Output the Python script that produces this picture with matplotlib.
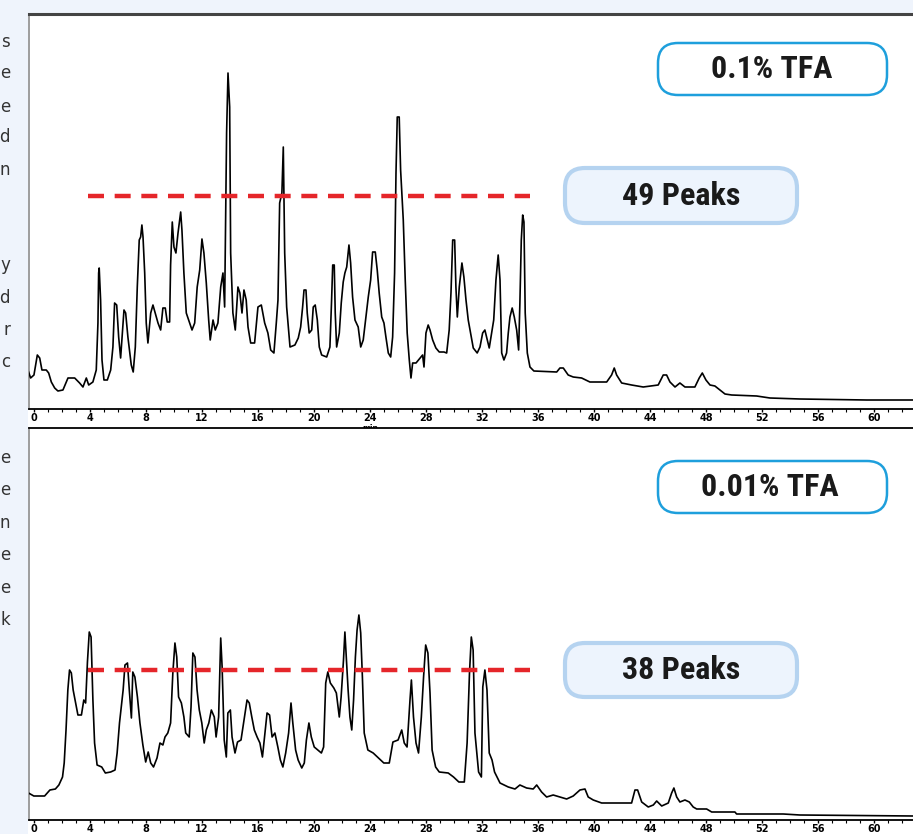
import numpy as np
import matplotlib
matplotlib.use("Agg")
import matplotlib.pyplot as plt
from matplotlib.patches import FancyBboxPatch, Rectangle
from matplotlib.ticker import MultipleLocator

# retention time (min) and detector signal
t_01 = [-0.43, -0.24, 0.00, 0.24, 0.41, 0.57, 0.88, 1.05, 1.24, 1.48, 1.71, 2.07, 2.43, 2.91, 3.26, 3.50,
        3.74, 3.91, 4.21, 4.45, 4.57, 4.62, 4.66, 4.76, 4.86, 5.00, 5.24, 5.48, 5.64, 5.76, 5.91, 6.05,
        6.19, 6.34, 6.43, 6.55, 6.71, 6.95, 7.09, 7.24, 7.38, 7.52, 7.62, 7.71, 7.79, 7.91, 8.02, 8.14,
        8.34, 8.50, 8.66, 8.86, 9.05, 9.21, 9.38, 9.52, 9.69, 9.76, 9.88, 10.00, 10.14, 10.29, 10.48, 10.57,
        10.71, 10.88, 11.12, 11.29, 11.48, 11.66, 11.84, 12.00, 12.14, 12.31, 12.48, 12.59, 12.79, 12.95,
        13.14, 13.34, 13.50, 13.62, 13.76, 13.86, 13.98, 14.05, 14.21, 14.38, 14.57, 14.71, 14.86, 15.00,
        15.16, 15.29, 15.48, 15.76, 16.00, 16.24, 16.48, 16.71, 16.91, 17.14, 17.31, 17.43, 17.55, 17.71,
        17.81, 17.91, 18.05, 18.29, 18.64, 18.88, 19.05, 19.19, 19.29, 19.43, 19.52, 19.66, 19.84, 19.95,
        20.09, 20.24, 20.38, 20.55, 20.91, 21.14, 21.26, 21.34, 21.45, 21.52, 21.62, 21.81, 21.95, 22.09,
        22.21, 22.34, 22.50, 22.62, 22.76, 22.93, 23.16, 23.34, 23.52, 23.71, 23.88, 24.05, 24.19, 24.38,
        24.52, 24.66, 24.84, 25.00, 25.14, 25.31, 25.48, 25.62, 25.76, 25.86, 25.95, 26.09, 26.19, 26.38,
        26.52, 26.66, 26.81, 26.93, 27.05, 27.29, 27.76, 27.86, 28.00, 28.16, 28.29, 28.48, 28.71, 28.95,
        29.29, 29.48, 29.66, 29.79, 29.91, 30.05, 30.14, 30.24, 30.38, 30.57, 30.71, 30.86, 31.02, 31.19,
        31.38, 31.66, 31.86, 32.05, 32.21, 32.38, 32.52, 32.69, 32.84, 33.00, 33.16, 33.29, 33.41, 33.57,
        33.76, 33.88, 34.00, 34.16, 34.31, 34.48, 34.62, 34.71, 34.81, 34.91, 35.00, 35.09, 35.24, 35.43,
        35.71, 37.34, 37.57, 37.81, 38.16, 38.52, 39.12, 39.71, 40.91, 41.26, 41.45, 41.62, 41.98, 42.69,
        43.52, 44.59, 44.95, 45.19, 45.43, 45.79, 46.14, 46.50, 47.21, 47.52, 47.74, 48.00, 48.29, 48.64,
        49.00, 49.36, 49.84, 51.62, 52.57, 54.71, 59.48, 62.79]
sig_01 = [39, 31, 34, 54, 51, 39, 39, 36, 27, 21, 18, 19, 31, 31, 26, 22,
          31, 24, 27, 39, 86, 136, 141, 109, 49, 29, 29, 39, 62, 106, 104, 72,
          51, 82, 99, 96, 72, 44, 37, 62, 122, 169, 172, 184, 172, 136, 86, 66,
          96, 104, 96, 86, 79, 101, 101, 87, 87, 144, 187, 162, 156, 176, 197, 179,
          136, 96, 86, 79, 86, 122, 139, 170, 156, 126, 89, 69, 89, 79,
          86, 122, 136, 102, 276, 336, 302, 156, 96, 79, 122, 116, 96, 119,
          109, 82, 66, 66, 102, 104, 86, 76, 59, 56, 86, 109, 206, 216,
          262, 156, 102, 62, 64, 71, 82, 102, 119, 119, 96, 76, 79, 102,
          104, 89, 62, 54, 52, 62, 109, 144, 144, 96, 62, 76, 106, 127,
          136, 142, 164, 146, 112, 89, 82, 62, 69, 92, 112, 129, 157, 157,
          139, 116, 92, 86, 72, 56, 52, 72, 136, 236, 292, 292, 239, 189,
          129, 76, 49, 31, 46, 46, 54, 42, 76, 84, 79, 69, 61, 57,
          57, 56, 79, 117, 169, 169, 122, 92, 122, 146, 132, 109, 89, 76,
          61, 56, 62, 76, 79, 69, 61, 76, 89, 129, 154, 129, 56, 49,
          56, 76, 92, 101, 92, 79, 59, 106, 169, 194, 187, 96, 56, 42,
          38, 37, 41, 41, 34, 32, 31, 27, 27, 34, 41, 34, 26, 24,
          22, 24, 34, 34, 27, 22, 26, 22, 22, 31, 36, 29, 24, 23,
          19, 15, 14, 13, 11, 10, 9, 9]

t_001 = [-0.39, -0.01, 0.76, 1.14, 1.53, 1.78, 2.04, 2.16, 2.29, 2.42, 2.54, 2.67, 2.80, 2.98, 3.14, 3.39,
         3.56, 3.69, 3.82, 3.95, 4.08, 4.21, 4.33, 4.51, 4.84, 5.10, 5.48, 5.79, 5.94, 6.11, 6.37, 6.50,
         6.68, 6.81, 6.96, 7.06, 7.21, 7.39, 7.57, 7.78, 7.98, 8.16, 8.34, 8.54, 8.79, 9.00, 9.21, 9.36,
         9.56, 9.76, 9.92, 10.07, 10.20, 10.33, 10.53, 10.71, 10.84, 11.09, 11.22, 11.35, 11.50, 11.65,
         11.81, 11.99, 12.16, 12.31, 12.49, 12.67, 12.88, 13.01, 13.19, 13.34, 13.44, 13.59, 13.74, 13.85,
         14.03, 14.15, 14.36, 14.54, 14.79, 15.04, 15.22, 15.38, 15.56, 15.74, 15.94, 16.14, 16.32, 16.50,
         16.65, 16.83, 17.01, 17.21, 17.42, 17.60, 17.78, 17.98, 18.19, 18.36, 18.49, 18.69, 18.87, 19.13,
         19.31, 19.46, 19.64, 19.81, 20.02, 20.28, 20.53, 20.69, 20.84, 20.99, 21.17, 21.42, 21.60, 21.81,
         21.94, 22.11, 22.21, 22.31, 22.44, 22.57, 22.70, 22.83, 22.96, 23.08, 23.21, 23.34, 23.46, 23.59,
         23.85, 24.23, 24.61, 24.99, 25.38, 25.64, 26.01, 26.27, 26.45, 26.65, 26.86, 26.96, 27.11, 27.29,
         27.47, 27.67, 27.83, 27.98, 28.14, 28.29, 28.44, 28.69, 28.95, 29.59, 29.97, 30.35, 30.74, 30.94,
         31.11, 31.24, 31.37, 31.50, 31.76, 31.96, 32.06, 32.21, 32.36, 32.52, 32.72, 32.90, 33.29, 33.88,
         34.36, 34.71, 35.19, 35.66, 35.91, 36.26, 36.62, 37.09, 37.57, 38.05, 38.52, 39.00, 39.36, 39.59,
         39.95, 40.55, 42.69, 42.93, 43.12, 43.41, 43.88, 44.24, 44.48, 44.84, 45.31, 45.55, 45.71, 45.91,
         46.14, 46.50, 46.81, 47.09, 47.34, 48.05, 48.41, 50.07, 50.19, 53.52, 54.71, 62.79]
sig_001 = [27, 24, 24, 30, 31, 35, 43, 57, 90, 130, 150, 147, 130, 117, 105, 105,
           120, 117, 158, 188, 183, 120, 77, 55, 53, 47, 48, 50, 67, 97, 130, 155,
           157, 130, 102, 148, 143, 123, 97, 75, 58, 68, 57, 53, 62, 77, 75, 83,
           87, 97, 147, 177, 163, 123, 117, 103, 87, 83, 113, 167, 163, 130,
           110, 97, 77, 90, 97, 110, 103, 83, 103, 182, 153, 80, 63, 107,
           110, 83, 67, 78, 80, 103, 120, 117, 103, 90, 83, 77, 63, 87,
           107, 105, 83, 87, 73, 60, 53, 67, 87, 117, 97, 70, 60, 52,
           57, 80, 97, 83, 73, 70, 67, 73, 137, 148, 137, 132, 127, 103,
           123, 160, 188, 163, 130, 103, 90, 120, 163, 190, 205, 187, 143, 87,
           70, 67, 62, 57, 57, 78, 80, 90, 77, 73, 120, 140, 103, 77,
           67, 103, 143, 175, 167, 127, 70, 53, 48, 47, 43, 38, 38, 77,
           147, 183, 170, 87, 48, 43, 133, 150, 130, 67, 60, 48, 37, 33,
           31, 35, 32, 31, 35, 28, 23, 25, 23, 21, 24, 30, 31, 23,
           20, 17, 17, 30, 30, 18, 13, 15, 19, 14, 17, 27, 32, 23,
           18, 20, 18, 13, 11, 11, 8, 8, 6, 6, 5, 4]

# peak-count threshold levels and the labels
threshold_01 = 213
threshold_001 = 150
conditions = ["0.1% TFA", "0.01% TFA"]
peak_labels = ["49 Peaks", "38 Peaks"]
tick_values = list(range(0, 61, 4))

W, H = 913, 834
bg = "#eff4fc"
label_font = ["Roboto Condensed", "Liberation Sans Narrow", "DejaVu Sans"]

fig = plt.figure(figsize=(W / 100, H / 100), dpi=100, facecolor=bg)
fig.patches.append(Rectangle((28 / W, 0), 1 - 28 / W, 1 - 12.5 / H, transform=fig.transFigure,
                             facecolor="white", edgecolor="none", zorder=-5))

def fx(px):
    return px / W

def fy(py):
    return 1 - py / H

ax1 = fig.add_axes([fx(28.5), fy(409), 1 - fx(28.5), fy(14) - fy(409)])
ax2 = fig.add_axes([fx(28.5), fy(820), 1 - fx(28.5), fy(428) - fy(820)])

for ax, t, s, thr, top in [(ax1, t_01, sig_01, threshold_01, 395), (ax2, t_001, sig_001, threshold_001, 392)]:
    ax.set_zorder(1)
    ax.plot(t, s, color="black", lw=1.2, zorder=3)
    ax.hlines(thr, 3.86, 35.43, colors="#e5262a", lw=3.2, linestyles=(0, (3.6, 2.4)), zorder=4)
    ax.set_xlim(-0.39, 62.79)
    ax.set_ylim(0, top)
    ax.set_facecolor("white")
    ax.set_yticks([])
    ax.set_xticks(tick_values)
    ax.set_xticklabels([str(v) for v in tick_values])
    ax.xaxis.set_minor_locator(MultipleLocator(1))
    ax.tick_params(axis="x", which="major", direction="out", length=2.5, width=1, pad=0.5,
                   labelsize=7, colors="black")
    ax.tick_params(axis="x", which="minor", direction="out", length=2, width=0.8)
    for lab in ax.get_xticklabels():
        lab.set_fontweight("bold")
    ax.spines["right"].set_visible(False)
    ax.spines["left"].set_color("#8c8c8c")
    ax.spines["left"].set_linewidth(1.2)
    ax.spines["bottom"].set_linewidth(1.3)

ax1.spines["top"].set_color("#444444")
ax1.spines["top"].set_linewidth(2.2)
ax2.spines["top"].set_linewidth(1.3)
ax1.annotate("min", xy=(24, 0), xycoords="data", xytext=(0, -11), textcoords="offset points",
             ha="center", va="top", fontsize=5.5, fontweight="bold")

# label boxes (inches from the bottom-left corner)
boxes = [
    (6.58, 7.39, 2.29, 0.52, "white", "#1e9fdc", 1.8, conditions[0], 7.72, 7.65),
    (5.65, 6.11, 2.32, 0.55, "#edf4fd", "#b5d3f0", 3.0, peak_labels[0], 6.81, 6.38),
    (6.58, 3.21, 2.29, 0.52, "white", "#1e9fdc", 1.8, conditions[1], 7.70, 3.47),
    (5.65, 1.37, 2.32, 0.54, "#edf4fd", "#b5d3f0", 3.0, peak_labels[1], 6.81, 1.64),
]
for x0, y0, bw, bh, fc, ec, lw, txt, tx, ty in boxes:
    fig.patches.append(FancyBboxPatch((x0, y0), bw, bh, boxstyle="round,pad=0,rounding_size=0.2",
                                      transform=fig.dpi_scale_trans, facecolor=fc, edgecolor=ec,
                                      lw=lw, zorder=5))
    fig.text(tx / 9.13, ty / 8.34, txt, ha="center", va="center", fontsize=23, fontweight="bold",
             fontstretch="condensed", family=label_font, color="#1a1a1a", zorder=6)

# cut-off ends of the neighbouring text column
margin_letters = [("s", 42), ("e", 73), ("e", 107), ("d", 137), ("n", 170), ("y", 265), ("d", 298),
                  ("r", 330), ("c", 362), ("e", 458), ("e", 490), ("n", 523), ("e", 555), ("e", 588),
                  ("k", 620)]
for ch, py in margin_letters:
    fig.text(fx(10), fy(py), ch, ha="right", va="center", fontsize=12, color="#333333")

fig.savefig("out.png", dpi=100, facecolor=bg)
